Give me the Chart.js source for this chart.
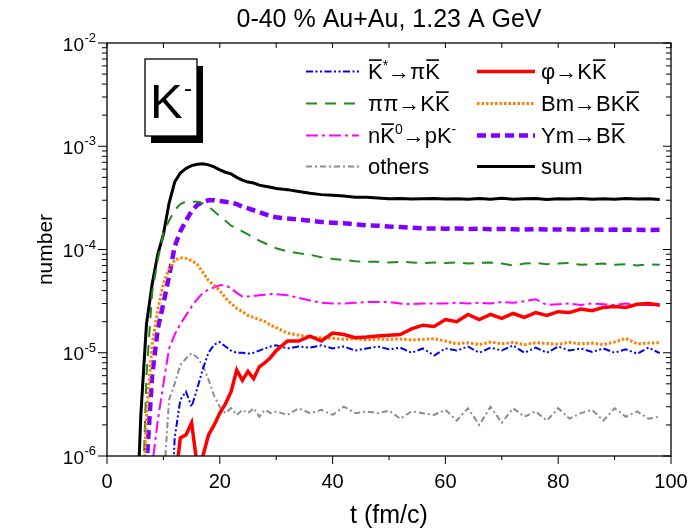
<!DOCTYPE html>
<html>
<head>
<meta charset="utf-8">
<script src="https://cdn.jsdelivr.net/npm/chart.js@4.4.1/dist/chart.umd.min.js"></script>
<style>
  body { margin: 0; background: #fff; }
  canvas { display: block; }
</style>
</head>
<body>
<canvas id="kaonChart" width="689" height="531"></canvas>
<script>
/* Data START */
var FONT = '"Liberation Sans", Arial, sans-serif';

// time grid (fm/c)
var tGrid = [5, 6, 7, 8, 9, 10, 11, 12, 13, 14, 15, 16, 17, 18, 19, 20, 21, 22, 23, 24, 25, 26, 27, 28, 29, 30,
    32, 34, 36, 38, 40, 42, 44, 46, 48, 50, 52, 54, 56, 58, 60, 62, 64, 66, 68, 70, 72, 74, 76, 78,
    80, 82, 84, 86, 88, 90, 92, 94, 96, 98];

var kStarVals = [1e-7, 1e-7, 1e-7, 1e-7, 1e-7, 1e-7, 1e-7, 1.5e-6, 3.5e-6, 4.2e-6, 3.0e-6, 4.5e-6, 7.0e-6, 1.0e-5, 1.2e-5, 1.27e-5, 1.15e-5, 1.05e-5, 1.0e-5, 1.0e-5, 9.8e-6, 1.0e-5, 1.05e-5, 1.1e-5, 1.15e-5, 1.18e-5,
    1.1e-5, 1.15e-5, 1.12e-5, 1.18e-5, 1.1e-5, 1.15e-5, 1.05e-5, 1.1e-5, 1.15e-5, 1.08e-5, 1.12e-5, 1.0e-5, 1.1e-5, 9.4e-6, 1.1e-5, 1.05e-5, 1.15e-5, 1.0e-5, 1.12e-5, 1.05e-5, 1.18e-5, 1.0e-5, 1.12e-5, 1.0e-5,
    1.15e-5, 1.05e-5, 1.1e-5, 1.02e-5, 1.1e-5, 1.0e-5, 1.08e-5, 9.8e-6, 1.12e-5, 9.9e-6];

var pipiVals = [1e-7, 1e-7, 6e-6, 3.8e-5, 7.9e-5, 1.44e-4, 1.9e-4, 2.4e-4, 2.75e-4, 2.9e-4, 2.9e-4, 2.9e-4, 2.8e-4, 2.6e-4, 2.35e-4, 2.1e-4, 1.9e-4, 1.7e-4, 1.6e-4, 1.5e-4, 1.4e-4, 1.3e-4, 1.22e-4, 1.15e-4, 1.08e-4, 1.03e-4,
    9.6e-5, 9.2e-5, 8.9e-5, 8.4e-5, 8.1e-5, 7.9e-5, 7.7e-5, 7.6e-5, 7.6e-5, 7.5e-5, 7.6e-5, 7.5e-5, 7.4e-5, 7.5e-5, 7.4e-5, 7.5e-5, 7.3e-5, 7.4e-5, 7.5e-5, 7.3e-5, 7.0e-5, 7.3e-5, 7.4e-5, 7.2e-5,
    7.3e-5, 7.4e-5, 7.1e-5, 7.2e-5, 7.3e-5, 7.1e-5, 7.2e-5, 7.0e-5, 7.2e-5, 7.1e-5];

var nK0Vals = [1e-7, 1e-7, 1e-7, 8e-7, 2.2e-6, 5e-6, 1.1e-5, 1.5e-5, 1.9e-5, 2.3e-5, 2.8e-5, 3.3e-5, 3.8e-5, 4.1e-5, 4.3e-5, 4.5e-5, 4.5e-5, 4.2e-5, 3.8e-5, 3.5e-5, 3.5e-5, 3.55e-5, 3.6e-5, 3.65e-5, 3.7e-5, 3.7e-5,
    3.6e-5, 3.4e-5, 3.2e-5, 3.05e-5, 3.0e-5, 3.0e-5, 3.05e-5, 3.1e-5, 3.1e-5, 3.1e-5, 3.0e-5, 2.95e-5, 3.0e-5, 3.0e-5, 3.0e-5, 3.05e-5, 3.0e-5, 3.05e-5, 3.0e-5, 3.1e-5, 3.05e-5, 3.15e-5, 3.3e-5, 2.9e-5,
    2.95e-5, 3.0e-5, 2.9e-5, 3.0e-5, 2.95e-5, 2.9e-5, 3.0e-5, 2.9e-5, 2.9e-5, 2.85e-5];

var othersVals = [1e-7, 1e-7, 1e-7, 1e-7, 1e-7, 5e-7, 3.5e-6, 5.0e-6, 7.6e-6, 8.8e-6, 9.9e-6, 9.0e-6, 7.5e-6, 5.5e-6, 3.8e-6, 3.0e-6, 2.6e-6, 2.9e-6, 2.5e-6, 2.8e-6, 2.6e-6, 2.9e-6, 2.4e-6, 2.8e-6, 2.6e-6, 2.7e-6,
    2.5e-6, 2.9e-6, 2.6e-6, 2.8e-6, 2.5e-6, 3.0e-6, 2.6e-6, 2.7e-6, 2.6e-6, 2.75e-6, 2.3e-6, 2.7e-6, 2.6e-6, 2.5e-6, 2.8e-6, 2.2e-6, 2.9e-6, 2.0e-6, 3.0e-6, 2.1e-6, 2.9e-6, 2.4e-6, 2.7e-6, 2.2e-6,
    2.9e-6, 2.3e-6, 2.6e-6, 2.8e-6, 2.2e-6, 2.9e-6, 2.4e-6, 2.7e-6, 2.3e-6, 2.4e-6];

var phiVals = [1e-7, 1e-7, 1e-7, 1e-7, 1e-7, 1e-7, 1e-7, 5e-7, 1.5e-6, 1.6e-6, 2.1e-6, 8e-7, 1.0e-6, 1.6e-6, 2.0e-6, 2.6e-6, 3.2e-6, 4.2e-6, 6.8e-6, 5.4e-6, 6.6e-6, 5.6e-6, 7.3e-6, 8.0e-6, 9.0e-6, 1.05e-5,
    1.3e-5, 1.3e-5, 1.45e-5, 1.3e-5, 1.55e-5, 1.5e-5, 1.4e-5, 1.42e-5, 1.45e-5, 1.48e-5, 1.5e-5, 1.7e-5, 1.85e-5, 1.8e-5, 2.1e-5, 2.0e-5, 2.35e-5, 2.1e-5, 2.35e-5, 2.15e-5, 2.4e-5, 2.2e-5, 2.45e-5, 2.3e-5,
    2.5e-5, 2.45e-5, 2.65e-5, 2.55e-5, 2.75e-5, 2.8e-5, 2.75e-5, 2.95e-5, 3.0e-5, 2.9e-5];

var bmVals = [1e-7, 1e-7, 2.5e-6, 1.2e-5, 2.6e-5, 4.7e-5, 6.5e-5, 7.9e-5, 8.3e-5, 8.2e-5, 7.8e-5, 7.2e-5, 6.0e-5, 5.0e-5, 4.5e-5, 4.0e-5, 3.4e-5, 3.0e-5, 2.7e-5, 2.5e-5, 2.3e-5, 2.2e-5, 2.1e-5, 2.0e-5, 1.85e-5, 1.75e-5,
    1.55e-5, 1.48e-5, 1.42e-5, 1.4e-5, 1.38e-5, 1.35e-5, 1.37e-5, 1.33e-5, 1.36e-5, 1.34e-5, 1.36e-5, 1.33e-5, 1.35e-5, 1.37e-5, 1.3e-5, 1.22e-5, 1.25e-5, 1.2e-5, 1.27e-5, 1.22e-5, 1.26e-5, 1.2e-5, 1.25e-5, 1.23e-5,
    1.21e-5, 1.26e-5, 1.22e-5, 1.24e-5, 1.2e-5, 1.27e-5, 1.38e-5, 1.22e-5, 1.24e-5, 1.25e-5];

var ymVals = [1e-7, 1e-7, 8e-7, 6e-6, 1.7e-5, 3.0e-5, 5.5e-5, 1.07e-4, 1.5e-4, 1.9e-4, 2.35e-4, 2.7e-4, 2.9e-4, 3.0e-4, 3.0e-4, 2.95e-4, 2.9e-4, 2.85e-4, 2.75e-4, 2.6e-4, 2.5e-4, 2.4e-4, 2.3e-4, 2.2e-4, 2.1e-4, 2.05e-4,
    2.0e-4, 1.95e-4, 1.9e-4, 1.85e-4, 1.82e-4, 1.8e-4, 1.75e-4, 1.72e-4, 1.7e-4, 1.67e-4, 1.65e-4, 1.63e-4, 1.6e-4, 1.6e-4, 1.59e-4, 1.6e-4, 1.58e-4, 1.59e-4, 1.57e-4, 1.58e-4, 1.57e-4, 1.56e-4, 1.57e-4, 1.56e-4,
    1.56e-4, 1.57e-4, 1.55e-4, 1.56e-4, 1.55e-4, 1.56e-4, 1.55e-4, 1.55e-4, 1.54e-4, 1.55e-4];

var sumVals = [1e-7, 2.5e-6, 1.9e-5, 4.6e-5, 9e-5, 1.4e-4, 2.8e-4, 4.5e-4, 5.5e-4, 6.1e-4, 6.5e-4, 6.7e-4, 6.75e-4, 6.6e-4, 6.3e-4, 5.9e-4, 5.6e-4, 5.4e-4, 5.0e-4, 4.7e-4, 4.5e-4, 4.4e-4, 4.2e-4, 4.1e-4, 4.0e-4, 3.9e-4,
    3.8e-4, 3.65e-4, 3.5e-4, 3.4e-4, 3.35e-4, 3.3e-4, 3.2e-4, 3.2e-4, 3.15e-4, 3.1e-4, 3.12e-4, 3.08e-4, 3.1e-4, 3.12e-4, 3.08e-4, 3.1e-4, 3.06e-4, 3.12e-4, 3.07e-4, 3.13e-4, 3.06e-4, 3.1e-4, 3.12e-4, 3.05e-4,
    3.1e-4, 3.08e-4, 3.12e-4, 3.06e-4, 3.1e-4, 3.07e-4, 3.11e-4, 3.08e-4, 3.1e-4, 3.05e-4];

var yPowers = [-6, -5, -4, -3, -2];
var xMajorTicks = [0, 20, 40, 60, 80, 100];
var xMinorTicks = [10, 30, 50, 70, 90];
/* Data END */

// legend labels as rich text parts (bar = overline, sup = superscript)
var labels = {
    kStar: [{t: 'K', bar: true}, {t: '*', sup: true}, {t: '\u2192\u03c0'}, {t: 'K', bar: true}],
    pipi: [{t: '\u03c0\u03c0\u2192K'}, {t: 'K', bar: true}],
    nK0: [{t: 'n'}, {t: 'K', bar: true}, {t: '0', sup: true}, {t: '\u2192pK'}, {t: '-', sup: true}],
    others: [{t: 'others'}],
    phi: [{t: '\u03c6\u2192K'}, {t: 'K', bar: true}],
    bm: [{t: 'Bm\u2192BK'}, {t: 'K', bar: true}],
    ym: [{t: 'Ym\u2192B'}, {t: 'K', bar: true}],
    sum: [{t: 'sum'}]
};

function makeSet(key, values, color, width, dash, col, row) {
    return {
        key: key,
        data: tGrid.map((t, i) => ({x: t, y: values[i]})),
        borderColor: color,
        borderWidth: width,
        borderDash: dash,
        pointRadius: 0,
        tension: 0,
        fill: false,
        legendCol: col,
        legendRow: row
    };
}

var datasets = [
    makeSet('phi', phiVals, '#ff0000', 3.5, [], 1, 0),
    makeSet('kStar', kStarVals, '#0000ff', 2, [7, 2.5, 2, 2.5, 2, 2.5], 0, 0),
    makeSet('bm', bmVals, '#ff8000', 3, [2.5, 2], 1, 1),
    makeSet('nK0', nK0Vals, '#ff00ff', 2, [12, 4, 3, 4], 0, 2),
    makeSet('others', othersVals, '#8c8c8c', 2, [6, 3, 2, 3], 0, 3),
    makeSet('pipi', pipiVals, '#1f8c1f', 2, [11, 8], 0, 1),
    makeSet('ym', ymVals, '#8000ff', 4.5, [9, 5], 1, 2),
    makeSet('sum', sumVals, '#000000', 3, [], 1, 3)
];

function drawRich(ctx, parts, x, y, size) {
    parts.forEach(p => {
        var fs = p.sup ? Math.round(size * 0.62) : size;
        ctx.font = fs + 'px ' + FONT;
        var dy = p.sup ? -size * 0.42 : 0;
        ctx.fillText(p.t, x, y + dy);
        var w = ctx.measureText(p.t).width;
        if (p.bar) {
            ctx.save();
            ctx.lineWidth = 1.6;
            ctx.setLineDash([]);
            ctx.beginPath();
            ctx.moveTo(x + 1, y - size * 0.86);
            ctx.lineTo(x + w - 1, y - size * 0.86);
            ctx.stroke();
            ctx.restore();
        }
        x += w;
    });
}

var decorPlugin = {
    id: 'decor',
    afterDraw(chart) {
        var ctx = chart.ctx;
        var a = chart.chartArea;
        var xs = chart.scales.x;
        var ys = chart.scales.y;
        ctx.save();
        ctx.fillStyle = '#000';
        ctx.strokeStyle = '#000';

        /* frame */
        ctx.lineWidth = 1.3;
        ctx.strokeRect(a.left, a.top, a.right - a.left, a.bottom - a.top);

        /* x ticks */
        ctx.lineWidth = 1;
        ctx.beginPath();
        xMajorTicks.forEach(v => {
            var px = xs.getPixelForValue(v);
            ctx.moveTo(px, a.bottom); ctx.lineTo(px, a.bottom + 8);
            ctx.moveTo(px, a.top); ctx.lineTo(px, a.top + 5);
        });
        xMinorTicks.forEach(v => {
            var px = xs.getPixelForValue(v);
            ctx.moveTo(px, a.bottom); ctx.lineTo(px, a.bottom + 4);
            ctx.moveTo(px, a.top); ctx.lineTo(px, a.top + 5);
        });

        /* y ticks */
        yPowers.forEach(e => {
            var py = ys.getPixelForValue(Math.pow(10, e));
            ctx.moveTo(a.left - 9, py); ctx.lineTo(a.left, py);
            ctx.moveTo(a.right - 8, py); ctx.lineTo(a.right, py);
            if (e < -2) {
                for (var k = 2; k <= 9; k++) {
                    var pm = ys.getPixelForValue(k * Math.pow(10, e));
                    ctx.moveTo(a.left - 5, pm); ctx.lineTo(a.left, pm);
                    ctx.moveTo(a.right - 5, pm); ctx.lineTo(a.right, pm);
                }
            }
        });
        ctx.stroke();

        /* y labels 10^n */
        yPowers.forEach(e => {
            var py = ys.getPixelForValue(Math.pow(10, e));
            ctx.font = '19px ' + FONT;
            ctx.textAlign = 'right';
            ctx.textBaseline = 'alphabetic';
            ctx.fillText('10', 84, py + 7.5);
            ctx.font = '13px ' + FONT;
            ctx.textAlign = 'left';
            ctx.fillText(String(e), 84.5, py - 1);
        });

        /* title */
        ctx.font = '25px ' + FONT;
        ctx.textAlign = 'center';
        ctx.textBaseline = 'alphabetic';
        ctx.fillText('0-40 % Au+Au, 1.23 A GeV', (a.left + a.right) / 2, 27);

        /* K- box */
        ctx.fillRect(151, 66, 52, 77);
        ctx.fillStyle = '#fff';
        ctx.fillRect(145, 59, 52, 77);
        ctx.lineWidth = 1.3;
        ctx.strokeRect(145, 59, 52, 77);
        ctx.fillStyle = '#000';
        ctx.textAlign = 'left';
        ctx.font = '49px ' + FONT;
        ctx.fillText('K', 150, 118);
        ctx.font = '24px ' + FONT;
        ctx.fillText('-', 184, 96);

        /* legend */
        var colLine = [[306, 359], [477, 535]];
        var colText = [368, 541];
        var rowBase = [79, 111, 143, 174];
        chart.data.datasets.forEach(ds => {
            var yb = rowBase[ds.legendRow];
            var yl = yb - 7.5;
            var c = colLine[ds.legendCol];
            ctx.save();
            ctx.strokeStyle = ds.borderColor;
            ctx.lineWidth = ds.borderWidth;
            ctx.setLineDash(ds.borderDash);
            ctx.beginPath();
            ctx.moveTo(c[0], yl);
            ctx.lineTo(c[1], yl);
            ctx.stroke();
            ctx.restore();
            ctx.textAlign = 'left';
            ctx.textBaseline = 'alphabetic';
            drawRich(ctx, labels[ds.key], colText[ds.legendCol], yb, 22);
        });
        ctx.restore();
    }
};

var kaonChart = new Chart(document.getElementById('kaonChart'), {
    type: 'line',
    data: {datasets: datasets},
    options: {
        responsive: false,
        animation: false,
        layout: {padding: {top: 43, right: 18, left: 0, bottom: 0}},
        plugins: {
            legend: {display: false},
            title: {display: false},
            tooltip: {enabled: false}
        },
        scales: {
            x: {
                type: 'linear',
                min: 0,
                max: 100,
                ticks: {stepSize: 20, color: '#000', font: {size: 20, family: FONT}, padding: 14, maxRotation: 0},
                grid: {display: false, drawTicks: false},
                border: {display: false},
                title: {display: true, text: 't (fm/c)', color: '#000', font: {size: 25, family: FONT}, padding: {top: 0, bottom: 0}},
                afterFit(scale) {
                    scale.height = 75;
                    scale.paddingLeft = 0;
                    scale.paddingRight = 0;
                }
            },
            y: {
                type: 'logarithmic',
                min: 1e-6,
                max: 1e-2,
                ticks: {display: false},
                grid: {display: false, drawTicks: false},
                border: {display: false},
                title: {display: true, text: 'number', color: '#000', font: {size: 21, family: FONT}, padding: {top: 34, bottom: 0}},
                afterFit(scale) {
                    scale.width = 107;
                    scale.paddingTop = 0;
                    scale.paddingBottom = 0;
                }
            }
        }
    },
    plugins: [decorPlugin]
});
</script>
</body>
</html>
